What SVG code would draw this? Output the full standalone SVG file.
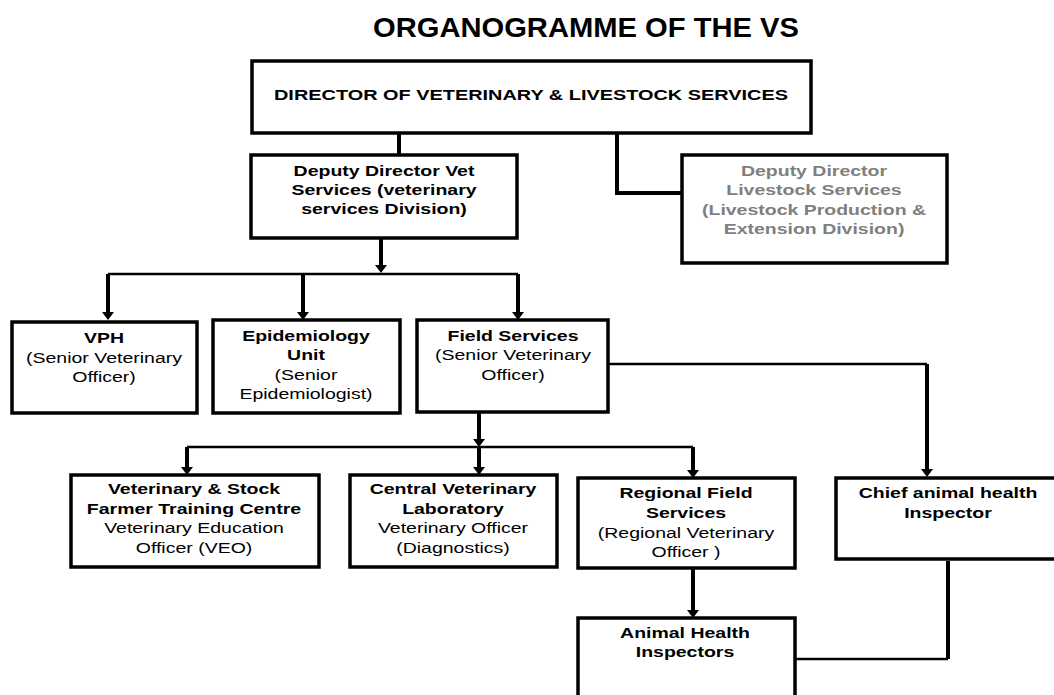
<svg xmlns="http://www.w3.org/2000/svg" width="1054" height="695" viewBox="0 0 1054 695">
<style>
.box{fill:#fff;stroke:#000;stroke-width:3.5}
.t{font-family:"Liberation Sans",Arial,sans-serif;font-size:15px;text-anchor:middle;fill:#000}
.b{font-weight:bold}
.g{fill:#7f7f7f}
.stem{fill:none;stroke:#000;stroke-width:4}
.bus{fill:none;stroke:#000;stroke-width:2.6}
</style>
<defs>
<marker id="ah" markerUnits="userSpaceOnUse" viewBox="0 0 8 12" markerWidth="8" markerHeight="12" refX="1" refY="6" orient="auto">
<path d="M0,0 L8,6 L0,12 z" fill="#000"/>
</marker>
</defs>
<rect width="1054" height="695" fill="#fff"/>
<text x="586" y="37" font-family="Liberation Sans,Arial,sans-serif" font-size="28" font-weight="bold" text-anchor="middle" textLength="426" lengthAdjust="spacingAndGlyphs">ORGANOGRAMME OF THE VS</text>

<g id="connectors">
<path class="stem" d="M399,133 V156"/>
<path class="stem" d="M617,133 V193 H682"/>
<path class="stem" d="M381,238 V266" marker-end="url(#ah)"/>
<path class="bus" d="M108,274 H518"/>
<path class="stem" d="M108,274 V313" marker-end="url(#ah)"/>
<path class="stem" d="M303,274 V313" marker-end="url(#ah)"/>
<path class="stem" d="M518,274 V313" marker-end="url(#ah)"/>
<path class="stem" d="M479,412 V440" marker-end="url(#ah)"/>
<path class="bus" d="M187,447 H693"/>
<path class="stem" d="M187,447 V468" marker-end="url(#ah)"/>
<path class="stem" d="M479,447 V468" marker-end="url(#ah)"/>
<path class="stem" d="M693,447 V471" marker-end="url(#ah)"/>
<path class="bus" d="M608,364 H927"/>
<path class="stem" d="M927,364 V470" marker-end="url(#ah)"/>
<path class="stem" d="M693,560 V611" marker-end="url(#ah)"/>
<path class="stem" d="M948,561 V659"/>
<path class="bus" d="M948,659 H795"/>
</g>

<g id="director">
<rect class="box" x="252" y="61" width="559" height="72"/>
<text class="t b" x="531" y="100" textLength="514" lengthAdjust="spacingAndGlyphs">DIRECTOR OF VETERINARY &amp; LIVESTOCK SERVICES</text>
</g>

<g id="deputy-vet">
<rect class="box" x="251" y="155" width="266" height="83"/>
<g transform="translate(384,0) scale(1.3,1)">
<text class="t b" x="0" y="176">Deputy Director Vet</text>
<text class="t b" x="0" y="195">Services (veterinary</text>
<text class="t b" x="0" y="214">services Division)</text>
</g>
</g>

<g id="deputy-livestock">
<rect class="box" x="682" y="155" width="265" height="108"/>
<g transform="translate(814,0) scale(1.3,1)">
<text class="t b g" x="0" y="176">Deputy Director</text>
<text class="t b g" x="0" y="195">Livestock Services</text>
<text class="t b g" x="0" y="215">(Livestock Production &amp;</text>
<text class="t b g" x="0" y="234">Extension Division)</text>
</g>
</g>

<g id="vph">
<rect class="box" x="12" y="322" width="185" height="91"/>
<g transform="translate(104,0) scale(1.3,1)">
<text class="t b" x="0" y="343">VPH</text>
<text class="t" x="0" y="363">(Senior Veterinary</text>
<text class="t" x="0" y="382">Officer)</text>
</g>
</g>

<g id="epidemiology">
<rect class="box" x="213" y="320" width="187" height="93"/>
<g transform="translate(306,0) scale(1.3,1)">
<text class="t b" x="0" y="341">Epidemiology</text>
<text class="t b" x="0" y="360">Unit</text>
<text class="t" x="0" y="380">(Senior</text>
<text class="t" x="0" y="399">Epidemiologist)</text>
</g>
</g>

<g id="field-services">
<rect class="box" x="417" y="320" width="191" height="92"/>
<g transform="translate(513,0) scale(1.3,1)">
<text class="t b" x="0" y="341">Field Services</text>
<text class="t" x="0" y="360">(Senior Veterinary</text>
<text class="t" x="0" y="380">Officer)</text>
</g>
</g>

<g id="training-centre">
<rect class="box" x="71" y="475" width="248" height="92"/>
<g transform="translate(194,0) scale(1.3,1)">
<text class="t b" x="0" y="494">Veterinary &amp; Stock</text>
<text class="t b" x="0" y="514">Farmer Training Centre</text>
<text class="t" x="0" y="533">Veterinary Education</text>
<text class="t" x="0" y="553">Officer (VEO)</text>
</g>
</g>

<g id="central-lab">
<rect class="box" x="350" y="475" width="207" height="92"/>
<g transform="translate(453,0) scale(1.3,1)">
<text class="t b" x="0" y="494">Central Veterinary</text>
<text class="t b" x="0" y="514">Laboratory</text>
<text class="t" x="0" y="533">Veterinary Officer</text>
<text class="t" x="0" y="553">(Diagnostics)</text>
</g>
</g>

<g id="regional-field">
<rect class="box" x="578" y="478" width="217" height="90"/>
<g transform="translate(686,0) scale(1.3,1)">
<text class="t b" x="0" y="498">Regional Field</text>
<text class="t b" x="0" y="518">Services</text>
<text class="t" x="0" y="538">(Regional Veterinary</text>
<text class="t" x="0" y="557">Officer )</text>
</g>
</g>

<g id="chief-inspector">
<rect class="box" x="836" y="478" width="226" height="81"/>
<g transform="translate(948,0) scale(1.3,1)">
<text class="t b" x="0" y="498">Chief animal health</text>
<text class="t b" x="0" y="518">Inspector</text>
</g>
</g>

<g id="animal-health-inspectors">
<rect class="box" x="578" y="618" width="217" height="90"/>
<g transform="translate(685,0) scale(1.3,1)">
<text class="t b" x="0" y="638">Animal Health</text>
<text class="t b" x="0" y="657">Inspectors</text>
</g>
</g>
</svg>
